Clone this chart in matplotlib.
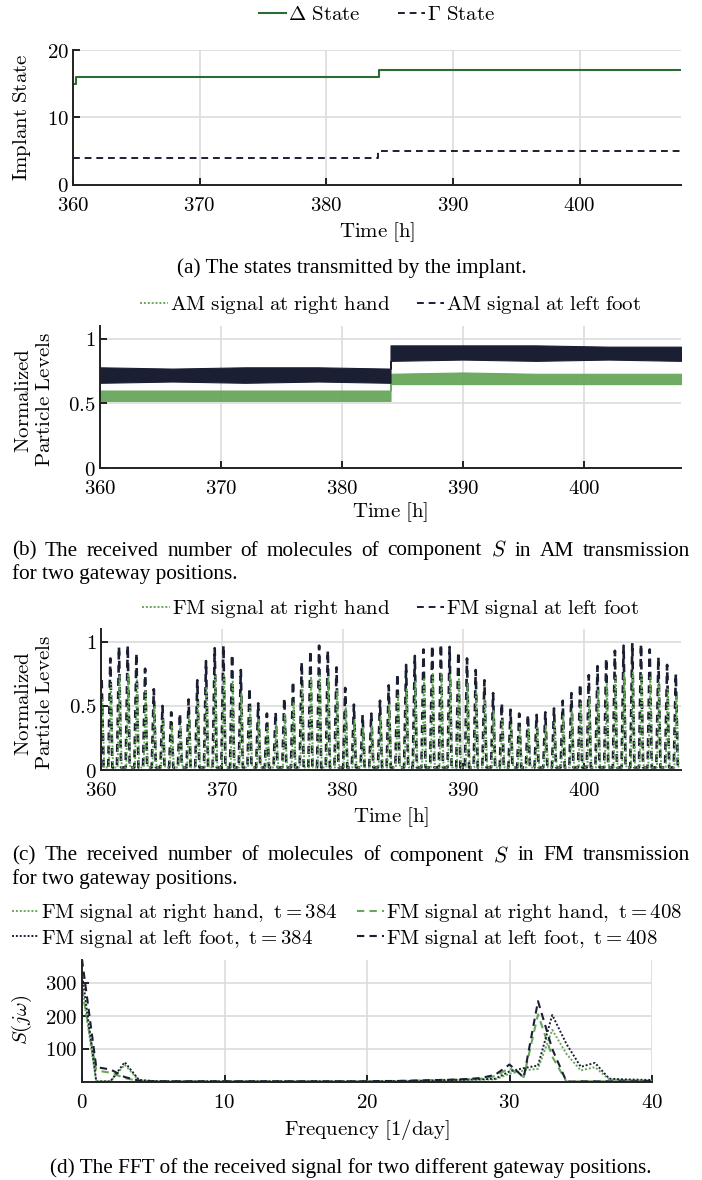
import numpy as np
import matplotlib
matplotlib.use('Agg')
import matplotlib.pyplot as plt
from matplotlib.lines import Line2D

# ---------------- data ----------------
# (a) implant states (step changes)
delta_time = [360.0, 360.25, 384.15, 408.0]
delta_state = [15, 16, 17, 17]
gamma_time = [360.0, 384.1, 408.0]
gamma_state = [4, 5, 5]

# (b) AM signal: noisy band (lower / upper edge)
am_time = [360, 366, 372, 378, 384, 384, 390, 396, 402, 408]
am_foot_low = [0.66, 0.67, 0.66, 0.67, 0.66, 0.83, 0.84, 0.83, 0.84, 0.83]
am_foot_high = [0.78, 0.77, 0.78, 0.78, 0.77, 0.95, 0.95, 0.95, 0.94, 0.94]
am_hand_low = [0.52, 0.52, 0.52, 0.52, 0.52, 0.65, 0.65, 0.65, 0.65, 0.65]
am_hand_high = [0.60, 0.60, 0.60, 0.60, 0.60, 0.73, 0.74, 0.73, 0.73, 0.73]

# (c) FM signal: pulse train, peak height of every pulse
fm_start = 360.05
fm_period = 0.72
fm_floor = 0.02
fm_foot_peaks = [0.72, 0.87, 0.96, 0.97, 0.91, 0.79, 0.63, 0.50, 0.45, 0.44,
                 0.55, 0.70, 0.85, 0.95, 0.97, 0.90, 0.78, 0.64, 0.52, 0.44,
                 0.45, 0.56, 0.69, 0.84, 0.93, 0.97, 0.93, 0.80, 0.64, 0.51,
                 0.43, 0.44, 0.54, 0.66, 0.75, 0.82, 0.89, 0.94, 0.97, 0.98,
                 0.96, 0.92, 0.87, 0.78, 0.70, 0.60, 0.52, 0.47, 0.44, 0.43,
                 0.43, 0.45, 0.48, 0.54, 0.60, 0.67, 0.74, 0.81, 0.87, 0.93,
                 0.97, 0.99, 0.98, 0.94, 0.88, 0.82, 0.75]
fm_hand_peaks = [0.56, 0.67, 0.74, 0.75, 0.70, 0.61, 0.49, 0.39, 0.35, 0.34,
                 0.42, 0.54, 0.65, 0.73, 0.75, 0.69, 0.60, 0.49, 0.40, 0.34,
                 0.35, 0.43, 0.53, 0.65, 0.72, 0.75, 0.72, 0.62, 0.49, 0.39,
                 0.33, 0.34, 0.42, 0.51, 0.58, 0.63, 0.69, 0.72, 0.75, 0.75,
                 0.74, 0.71, 0.67, 0.60, 0.54, 0.46, 0.40, 0.36, 0.34, 0.33,
                 0.33, 0.35, 0.37, 0.42, 0.46, 0.52, 0.57, 0.62, 0.67, 0.72,
                 0.75, 0.76, 0.75, 0.72, 0.68, 0.63, 0.58]

# (d) FFT magnitude at integer frequencies 0..40 [1/day]
freq = list(range(41))
fft_hand_384 = [290, 2, 2, 52, 5, 3, 2, 2, 2, 2, 2, 2, 2, 2, 2, 2, 2, 2, 2, 2,
                2, 2, 3, 3, 3, 4, 5, 6, 7, 8, 25, 35, 40, 158, 85, 35, 45, 8, 6, 5, 4]
fft_hand_408 = [280, 35, 28, 12, 3, 2, 2, 2, 2, 2, 2, 2, 2, 2, 2, 2, 2, 2, 2, 2,
                2, 3, 3, 4, 5, 6, 7, 8, 10, 18, 42, 15, 205, 77, 1, 2, 2, 2, 2, 2, 2]
fft_foot_384 = [330, 2, 2, 60, 6, 3, 2, 2, 2, 2, 2, 2, 2, 2, 2, 2, 2, 2, 2, 2,
                2, 2, 3, 3, 4, 5, 6, 7, 8, 10, 32, 42, 50, 203, 115, 46, 58, 10, 8, 7, 6]
fft_foot_408 = [372, 45, 38, 15, 4, 2, 2, 2, 2, 2, 2, 2, 2, 2, 2, 2, 2, 2, 2, 2,
                2, 3, 3, 4, 5, 6, 7, 9, 12, 22, 53, 14, 245, 100, 1, 2, 2, 2, 2, 2, 3]

time_ticks = [360, 370, 380, 390, 400]
level_ticks = [0, 0.5, 1]
level_labels = ['0', '0.5', '1']
state_ticks = [0, 10, 20]
freq_ticks = [0, 10, 20, 30, 40]
fft_ticks = [100, 200, 300]

# ---------------- style ----------------
plt.rcParams['mathtext.fontset'] = 'cm'
plt.rcParams['font.family'] = ['DejaVu Serif']
plt.rcParams['axes.unicode_minus'] = False

W, H = 702, 1180
fig = plt.figure(figsize=(W / 100, H / 100), dpi=100)

GREEN_DARK = '#2e6b33'
GREEN = '#67a75a'
NAVY = '#1a1f33'
GRID = '#dcdcdc'
FS = 15
CAP = 15.3
DOT = (0, (1, 1))
DASH = (0, (3.5, 2.5))


def m(s):
    return r'$\mathrm{' + s.replace(' ', r'\ ') + '}$'


def rect(l, r, t, b):
    return [l / W, 1 - b / H, (r - l) / W, (b - t) / H]


def fx(px):
    return px / W


def fy(py):
    return 1 - py / H


def style(ax):
    for s in ['top', 'right']:
        ax.spines[s].set_visible(False)
    for s in ['left', 'bottom']:
        ax.spines[s].set_linewidth(1.4)
        ax.spines[s].set_color('#222222')
    ax.grid(True, color=GRID, lw=1.2)
    ax.set_axisbelow(True)
    ax.tick_params(direction='in', length=5, width=1.2, labelsize=FS)
    ax.tick_params(axis='x', pad=8)
    ax.tick_params(axis='y', pad=3)


def set_ticks(ax, xt, yt, ylab=None):
    ax.set_xticks(xt)
    ax.set_xticklabels([m(str(v)) for v in xt])
    ax.set_yticks(yt)
    ax.set_yticklabels([m(s) for s in (ylab if ylab else [str(v) for v in yt])])


def justified(y, words, x0=12, x1=690, size=CAP):
    r = fig.canvas.get_renderer()
    texts = [fig.text(0, fy(y), w, fontsize=size, family='Liberation Serif', va='center')
             for w in words]
    widths = [t.get_window_extent(r).width for t in texts]
    gap = (x1 - x0 - sum(widths)) / (len(words) - 1)
    x = x0
    for t, w in zip(texts, widths):
        t.set_x(fx(x))
        x += w + gap


def legend(handles, labels, cx, cy, **kw):
    opts = dict(loc='center', bbox_to_anchor=(fx(cx), fy(cy)), ncol=2, frameon=False,
                fontsize=FS, handlelength=1.3, handletextpad=0.1, columnspacing=1.3)
    opts.update(kw)
    fig.legend(handles, labels, **opts)


# ---------------- (a) ----------------
axa = fig.add_axes(rect(73, 681, 50, 184.6))
style(axa)
axa.step(delta_time, delta_state, where='post', color=GREEN_DARK, lw=1.5)
axa.step(gamma_time, gamma_state, where='post', color=NAVY, lw=1.4, ls=DASH)
axa.set_xlim(360, 408)
axa.set_ylim(0, 20)
set_ticks(axa, time_ticks, state_ticks)
fig.text(fx(22), fy(117), m('Implant State'), rotation=90, ha='center', va='center', fontsize=FS)
fig.text(fx(377), fy(232), m('Time [h]'), ha='center', va='center', fontsize=FS)
legend([Line2D([], [], color=GREEN_DARK, lw=1.5), Line2D([], [], color=NAVY, lw=1.4, ls=DASH)],
       [r'$\Delta\ \mathrm{State}$', r'$\Gamma\ \mathrm{State}$'], 377, 15, columnspacing=1.8)
fig.text(fx(352), fy(268), '(a) The states transmitted by the implant.',
         ha='center', va='center', fontsize=CAP, family='Liberation Serif')

# ---------------- (b) ----------------
axb = fig.add_axes(rect(100, 681, 326, 468))
style(axb)
axb.fill_between(am_time, am_hand_low, am_hand_high, color=GREEN, lw=0.8, alpha=0.95)
axb.fill_between(am_time, am_foot_low, am_foot_high, color=NAVY, lw=0.8)
axb.set_xlim(360, 408)
axb.set_ylim(0, 1.1)
set_ticks(axb, time_ticks, level_ticks, level_labels)
fig.text(fx(34), fy(400), m('Normalized') + '\n' + m('Particle Levels'), rotation=90,
         ha='center', va='center', fontsize=FS, multialignment='center', linespacing=1.15)
fig.text(fx(390), fy(512), m('Time [h]'), ha='center', va='center', fontsize=FS)
legend([Line2D([], [], color=GREEN, lw=1.4, ls=DOT), Line2D([], [], color=NAVY, lw=1.4, ls=DASH)],
       [m('AM signal at right hand'), m('AM signal at left foot')], 391, 305)
justified(551, ['(b)', 'The', 'received', 'number', 'of', 'molecules', 'of', 'component',
                '$S$', 'in', 'AM', 'transmission'])
fig.text(fx(12), fy(574), 'for two gateway positions.', ha='left', va='center',
         fontsize=CAP, family='Liberation Serif')

# ---------------- (c) ----------------
axc = fig.add_axes(rect(101, 681, 629, 770))
style(axc)
pulse_t = fm_start + fm_period * np.arange(len(fm_foot_peaks))
n = len(pulse_t)
hw = 0.17
px = np.column_stack([pulse_t - hw, pulse_t, pulse_t + hw]).ravel()
floor = np.full(n, fm_floor)
foot_y = np.column_stack([floor, fm_foot_peaks, floor]).ravel()
hand_y = np.column_stack([floor, fm_hand_peaks, floor]).ravel()
axc.plot(px, foot_y, color=NAVY, lw=1.9, ls=(0, (3, 2)))
axc.plot(px + 0.05, hand_y, color=GREEN, lw=1.4, ls=DOT)
axc.set_xlim(360, 408)
axc.set_ylim(0, 1.1)
set_ticks(axc, time_ticks, level_ticks, level_labels)
fig.text(fx(34), fy(703), m('Normalized') + '\n' + m('Particle Levels'), rotation=90,
         ha='center', va='center', fontsize=FS, multialignment='center', linespacing=1.15)
fig.text(fx(391), fy(817), m('Time [h]'), ha='center', va='center', fontsize=FS)
legend([Line2D([], [], color=GREEN, lw=1.4, ls=DOT), Line2D([], [], color=NAVY, lw=1.4, ls=DASH)],
       [m('FM signal at right hand'), m('FM signal at left foot')], 391, 609)
justified(856, ['(c)', 'The', 'received', 'number', 'of', 'molecules', 'of', 'component',
                '$S$', 'in', 'FM', 'transmission'])
fig.text(fx(12), fy(879), 'for two gateway positions.', ha='left', va='center',
         fontsize=CAP, family='Liberation Serif')

# ---------------- (d) ----------------
axd = fig.add_axes(rect(82, 652, 959.9, 1082))
style(axd)
axd.plot(freq, fft_hand_384, color=GREEN, lw=1.4, ls=DOT)
axd.plot(freq, fft_hand_408, color=GREEN, lw=1.5, ls=DASH)
axd.plot(freq, fft_foot_384, color=NAVY, lw=1.4, ls=DOT)
axd.plot(freq, fft_foot_408, color=NAVY, lw=1.5, ls=DASH)
axd.set_xlim(0, 40)
axd.set_ylim(0, 370)
set_ticks(axd, freq_ticks, fft_ticks)
fig.text(fx(22), fy(1020), r'$S(j\omega)$', rotation=90, ha='center', va='center', fontsize=FS)
fig.text(fx(367), fy(1130), m('Frequency [1/day]'), ha='center', va='center', fontsize=FS)


def fm_label(where, t):
    return r'$\mathrm{FM\ signal\ at\ ' + where.replace(' ', r'\ ') + r',\ t=' + t + '}$'


legend([Line2D([], [], color=GREEN, lw=1.4, ls=DOT), Line2D([], [], color=NAVY, lw=1.4, ls=DOT),
        Line2D([], [], color=GREEN, lw=1.5, ls=DASH), Line2D([], [], color=NAVY, lw=1.5, ls=DASH)],
       [fm_label('right hand', '384'), fm_label('left foot', '384'),
        fm_label('right hand', '408'), fm_label('left foot', '408')],
       347, 926, columnspacing=0.9, labelspacing=0.15)
fig.text(fx(351), fy(1168), '(d) The FFT of the received signal for two different gateway positions.',
         ha='center', va='center', fontsize=CAP, family='Liberation Serif')

fig.savefig('out.png', dpi=100)
